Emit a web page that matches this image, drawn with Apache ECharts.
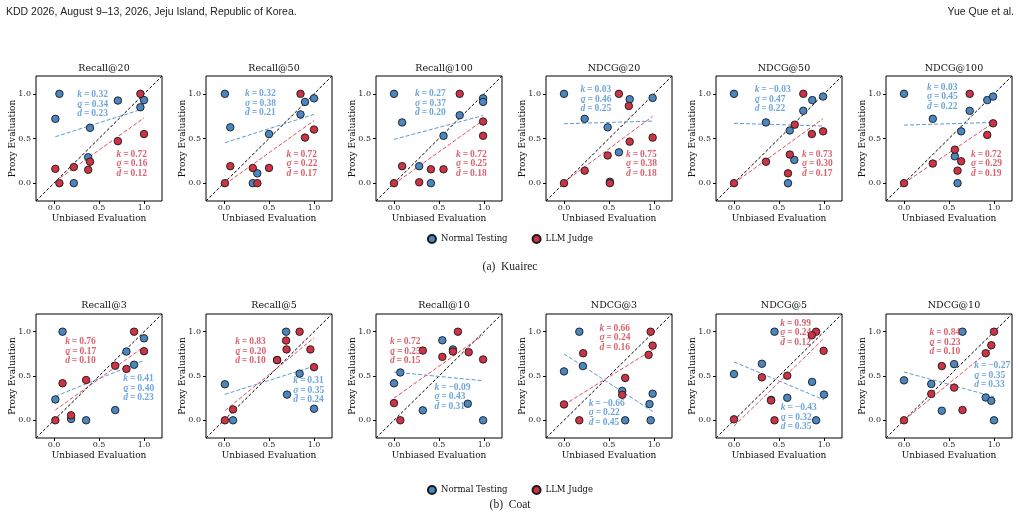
<!DOCTYPE html>
<html>
<head>
<meta charset="utf-8">
<title>Proxy vs Unbiased Evaluation</title>
<script src="https://cdn.jsdelivr.net/npm/echarts@6/dist/echarts.min.js"></script>
<style>
html, body { margin: 0; padding: 0; background: #fff; }
#main { width: 1020px; height: 518px; }
</style>
</head>
<body>
<div id="main"></div>
<script>
// panel titles, row a (Kuairec) then row b (Coat)
var titles = ['Recall@20', 'Recall@50', 'Recall@100', 'NDCG@20', 'NDCG@50', 'NDCG@100',
              'Recall@3', 'Recall@5', 'Recall@10', 'NDCG@3', 'NDCG@5', 'NDCG@10'];

// [unbiased, proxy] points per panel
var normalPts = [
  [[0.06,1.0],[0.015,0.72],[0.71,0.925],[1.0,0.93],[0.96,0.85],[0.40,0.62],[0.38,0.29],[0.22,0.0]],
  [[0.01,1.0],[0.07,0.625],[0.90,0.91],[1.0,0.95],[0.85,0.77],[0.50,0.55],[0.37,0.11],[0.32,0.0]],
  [[0.0,1.0],[0.09,0.68],[0.99,0.95],[0.99,0.91],[0.73,0.76],[0.55,0.53],[0.28,0.19],[0.41,0.0]],
  [[0.0,1.0],[0.23,0.72],[0.485,0.625],[0.73,0.94],[0.985,0.955],[0.61,0.345],[0.51,0.015]],
  [[0.0,1.0],[0.355,0.68],[0.62,0.59],[0.67,0.26],[0.77,0.81],[0.87,0.93],[0.99,0.97],[0.60,0.0]],
  [[0.0,1.0],[0.32,0.72],[0.73,0.81],[0.925,0.93],[0.99,0.97],[0.635,0.58],[0.565,0.30],[0.595,0.0]],
  [[0.095,1.0],[0.015,0.235],[0.19,0.015],[0.357,0.0],[0.68,0.115],[0.805,0.776],[0.89,0.627],[1.0,0.925]],
  [[0.69,1.0],[0.01,0.407],[0.10,0.0],[0.84,0.526],[0.70,0.29],[1.0,0.13],[0.59,0.68]],
  [[0.537,0.903],[0.655,0.80],[0.07,0.54],[0.0,0.418],[0.32,0.112],[0.82,0.187],[0.99,0.0]],
  [[0.17,1.0],[0.21,0.612],[0.0,0.552],[0.647,0.332],[0.95,0.183],[0.985,0.30],[0.68,0.0],[0.963,0.0]],
  [[0.45,1.0],[0.31,0.638],[0.0,0.522],[0.868,0.433],[1.0,0.29],[0.592,0.254],[0.912,0.0],[0.412,0.23]],
  [[0.65,1.0],[0.557,0.634],[0.0,0.451],[0.303,0.41],[0.908,0.257],[0.97,0.22],[0.42,0.108],[1.0,0.0]]
];
var judgePts = [
  [[0.96,1.0],[1.0,0.55],[0.71,0.47],[0.40,0.24],[0.38,0.15],[0.22,0.18],[0.015,0.16],[0.06,0.0]],
  [[0.85,1.0],[1.0,0.60],[0.90,0.51],[0.50,0.17],[0.32,0.17],[0.07,0.19],[0.01,0.0],[0.37,0.0]],
  [[0.73,1.0],[0.99,0.69],[0.99,0.53],[0.09,0.19],[0.41,0.155],[0.55,0.155],[0.28,0.01],[0.0,0.0]],
  [[0.61,1.0],[0.72,0.865],[0.985,0.51],[0.73,0.465],[0.485,0.31],[0.23,0.14],[0.0,0.0],[0.51,0.0]],
  [[0.77,1.0],[0.675,0.655],[0.865,0.55],[0.99,0.58],[0.62,0.32],[0.60,0.11],[0.355,0.24],[0.0,0.0]],
  [[0.73,1.0],[0.99,0.67],[0.925,0.54],[0.565,0.375],[0.635,0.245],[0.595,0.14],[0.32,0.22],[0.0,0.0]],
  [[0.89,1.0],[1.0,0.78],[0.805,0.58],[0.68,0.616],[0.357,0.455],[0.095,0.418],[0.19,0.056],[0.015,0.0]],
  [[0.84,1.0],[0.69,0.90],[0.695,0.80],[0.59,0.68],[0.96,0.80],[1.0,0.60],[0.10,0.123],[0.01,0.0]],
  [[0.71,1.0],[0.32,0.787],[0.537,0.716],[0.655,0.776],[0.83,0.769],[0.99,0.687],[0.0,0.194],[0.07,0.0]],
  [[0.963,1.0],[0.985,0.843],[0.94,0.739],[0.213,0.757],[0.68,0.478],[0.647,0.287],[0.0,0.179],[0.17,0.0]],
  [[0.912,1.0],[0.864,0.959],[0.996,0.784],[0.592,0.504],[0.31,0.485],[0.412,0.224],[0.45,0.0],[0.0,0.011]],
  [[1.0,1.0],[0.97,0.847],[0.908,0.757],[0.42,0.612],[0.557,0.369],[0.303,0.298],[0.65,0.116],[0.0,0.0]]
];

// fitted lines [slope, intercept]
var normalFit = [[0.32,0.515],[0.32,0.45],[0.27,0.49],[0.03,0.665],[-0.03,0.67],[0.03,0.65],
                 [0.41,0.265],[0.32,0.29],[-0.10,0.545],[-0.66,0.75],[-0.43,0.66],[-0.28,0.545]];
var judgeFit = [[0.72,0.01],[0.72,-0.02],[0.72,-0.01],[0.75,0.01],[0.73,0.0],[0.68,0.0],
                [0.725,0.105],[0.83,0.10],[0.72,0.25],[0.63,0.175],[0.99,-0.065],[0.83,0.0]];

// k, sigma, d-bar
var normalStats = [[0.32,0.34,0.23],[0.32,0.38,0.21],[0.27,0.37,0.20],[0.03,0.46,0.25],[-0.03,0.47,0.22],[0.03,0.45,0.22],
                   [0.41,0.40,0.23],[0.31,0.35,0.24],[-0.09,0.43,0.31],[-0.66,0.22,0.45],[-0.43,0.32,0.35],[-0.27,0.35,0.33]];
var judgeStats = [[0.72,0.16,0.12],[0.72,0.22,0.17],[0.72,0.25,0.18],[0.75,0.38,0.18],[0.73,0.30,0.17],[0.72,0.29,0.19],
                  [0.76,0.17,0.10],[0.83,0.20,0.10],[0.72,0.25,0.15],[0.66,0.24,0.16],[0.99,0.24,0.12],[0.84,0.23,0.10]];

// where the stat boxes sit (left x, middle y in data units)
var normalNote = [[0.265,0.88],[0.24,0.888],[0.24,0.888],[0.19,0.936],[0.235,0.936],[0.26,0.959],
                  [0.775,0.358],[0.775,0.332],[0.455,0.257],[0.28,0.078],[0.526,0.03],[0.786,0.504]];
var judgeNote = [[0.70,0.213],[0.70,0.213],[0.695,0.213],[0.695,0.213],[0.76,0.213],[0.75,0.213],
                 [0.13,0.776],[0.13,0.776],[-0.04,0.776],[0.40,0.925],[0.52,0.981],[0.29,0.877]];

var diag = [[-0.2,-0.2],[1.2,1.2]];
var ticks = [0, 0.5, 1];

var SERIF = 'DejaVu Serif';
var MATH = 'Liberation Serif';
var BLUE = '#4a87c2', RED = '#cc3344';
var BLUE_LINE = '#5b9bd5', RED_LINE = '#e0505f';
var BLUE_TXT = '#4a90d0', RED_TXT = '#d03a48';

var colLeft = [36, 206, 376, 546, 716, 886];
var rowTop = [76, 314];
var rowH = [125, 124];
var titleTop = [59, 296];

function fmt(v) {
  return (v < 0 ? '\u2212' + Math.abs(v).toFixed(2) : v.toFixed(2));
}

function fitLine(pts, f) {
  var xs = pts.map(function (p) { return p[0]; });
  var a = Math.min.apply(null, xs), b = Math.max.apply(null, xs);
  return [[a, f[0] * a + f[1]], [b, f[0] * b + f[1]]];
}

function noteText(s) {
  var eq = '\u2009=\u2009';
  return '{i|k}{t|' + eq + fmt(s[0]) + '}\n{i|\u03c3}{t|' + eq + fmt(s[1]) + '}\n{i|d\u0304}{t|' + eq + fmt(s[2]) + '}';
}

function noteRich(color) {
  return {
    i: { fontFamily: MATH, fontStyle: 'italic', fontWeight: 'bold', fontSize: 9.5, color: color, lineHeight: 9.5 },
    t: { fontFamily: MATH, fontWeight: 'bold', fontSize: 9.5, color: color, lineHeight: 9.5 }
  };
}

// only 0, 0.5 and 1 get a label; the axis steps by 0.1 from -0.2
function tickLabel(v) {
  for (var j = 0; j < ticks.length; j++) {
    if (Math.abs(v - ticks[j]) < 1e-6) return ticks[j].toFixed(1);
  }
  return '';
}

function axisCfg(i, name, gap, margin, pos) {
  return {
    gridIndex: i, type: 'value', min: -0.2, max: 1.2, interval: 0.1, position: pos,
    name: name, nameLocation: 'middle', nameGap: gap, nameMoveOverlap: false,
    nameTextStyle: { fontFamily: SERIF, fontSize: 9, color: '#111' },
    axisLine: { show: false, onZero: false }, splitLine: { show: false },
    axisTick: { show: true, inside: false, customValues: ticks, length: 3, lineStyle: { color: '#000' } },
    axisLabel: { show: true, margin: margin, hideOverlap: false,
                 fontFamily: SERIF, fontSize: 8, color: '#222', formatter: tickLabel }
  };
}

var grid = [], xAxis = [], yAxis = [], title = [], series = [];

for (var i = 0; i < 12; i++) {
  var row = Math.floor(i / 6), col = i % 6;
  grid.push({
    left: colLeft[col], top: rowTop[row], width: 126, height: rowH[row],
    show: true, borderColor: '#000', borderWidth: 1, backgroundColor: 'transparent'
  });
  xAxis.push(axisCfg(i, 'Unbiased Evaluation', 13, 3, 'bottom'));
  yAxis.push(axisCfg(i, 'Proxy Evaluation', 19, 5, 'left'));
  title.push({
    text: titles[i], left: colLeft[col] + 63, top: titleTop[row], textAlign: 'center',
    textStyle: { fontFamily: SERIF, fontSize: 9.5, fontWeight: 'normal', color: '#111' }
  });

  series.push({
    name: 'diag', type: 'line', xAxisIndex: i, yAxisIndex: i, data: diag,
    symbol: 'none', silent: true, z: 1,
    lineStyle: { color: '#000', width: 1, type: [3, 2] }
  });
  series.push({
    name: 'fitN', type: 'line', xAxisIndex: i, yAxisIndex: i, data: fitLine(normalPts[i], normalFit[i]),
    symbol: 'none', silent: true, z: 1,
    lineStyle: { color: BLUE_LINE, width: 1, type: [4, 2] }
  });
  series.push({
    name: 'fitJ', type: 'line', xAxisIndex: i, yAxisIndex: i, data: fitLine(judgePts[i], judgeFit[i]),
    symbol: 'none', silent: true, z: 1,
    lineStyle: { color: RED_LINE, width: 1, type: [4, 2] }
  });
  series.push({
    name: 'Normal Testing', type: 'scatter', xAxisIndex: i, yAxisIndex: i, data: normalPts[i],
    symbolSize: 7.5, z: 3,
    itemStyle: { color: BLUE, borderColor: '#1a1a1a', borderWidth: 0.9, opacity: 1 }
  });
  series.push({
    name: 'LLM Judge', type: 'scatter', xAxisIndex: i, yAxisIndex: i, data: judgePts[i],
    symbolSize: 7.5, z: 4,
    itemStyle: { color: RED, borderColor: '#1a1a1a', borderWidth: 0.9, opacity: 1 }
  });
  series.push({
    name: 'noteN', type: 'scatter', xAxisIndex: i, yAxisIndex: i, data: [normalNote[i]],
    symbolSize: 1, silent: true, z: 5, itemStyle: { color: 'rgba(0,0,0,0)' },
    label: { show: true, position: [0, 0], align: 'left', verticalAlign: 'middle',
             formatter: noteText(normalStats[i]), rich: noteRich(BLUE_TXT) }
  });
  series.push({
    name: 'noteJ', type: 'scatter', xAxisIndex: i, yAxisIndex: i, data: [judgeNote[i]],
    symbolSize: 1, silent: true, z: 5, itemStyle: { color: 'rgba(0,0,0,0)' },
    label: { show: true, position: [0, 0], align: 'left', verticalAlign: 'middle',
             formatter: noteText(judgeStats[i]), rich: noteRich(RED_TXT) }
  });
}

var legendBase = {
  data: ['Normal Testing', 'LLM Judge'], left: 'center', icon: 'circle',
  itemWidth: 8, itemHeight: 8, itemGap: 24,
  textStyle: { fontFamily: SERIF, fontSize: 8.5, color: '#111' }
};

var chart = echarts.init(document.getElementById('main'));
chart.setOption({
  animation: false,
  backgroundColor: '#fff',
  title: title,
  grid: grid,
  xAxis: xAxis,
  yAxis: yAxis,
  legend: [
    Object.assign({}, legendBase, { top: 229 }),
    Object.assign({}, legendBase, { top: 480 })
  ],
  graphic: [
    { type: 'text', left: 6, top: 7, style: { text: 'KDD 2026, August 9\u201313, 2026, Jeju Island, Republic of Korea.',
      fontFamily: 'Liberation Sans', fontSize: 10.5, fill: '#222' } },
    { type: 'text', right: 6, top: 7, style: { text: 'Yue Que et al.',
      fontFamily: 'Liberation Sans', fontSize: 10.5, fill: '#222' } },
    { type: 'text', left: 'center', top: 261, style: { text: '(a)  Kuairec',
      fontFamily: 'Liberation Serif', fontSize: 11.5, fill: '#222' } },
    { type: 'text', left: 'center', top: 499, style: { text: '(b)  Coat',
      fontFamily: 'Liberation Serif', fontSize: 11.5, fill: '#222' } }
  ],
  series: series
});
</script>
</body>
</html>
